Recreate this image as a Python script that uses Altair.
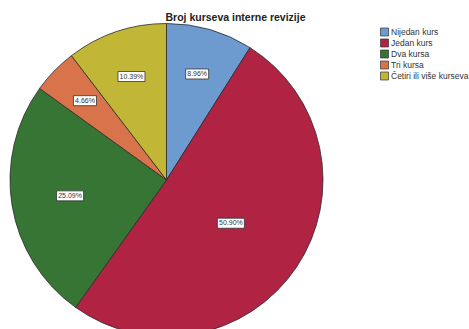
import altair as alt
import pandas as pd

categories = ["Nijedan kurs", "Jedan kurs", "Dva kursa", "Tri kursa", "Četiri ili više kurseva"]
percents = [8.96, 50.90, 25.09, 4.66, 10.39]
colors = ["#6e9bcf", "#b02343", "#377535", "#d8734b", "#c2b637"]
title_text = "Broj kurseva interne revizije"

CX, CY, R = 166.5, 180, 156.5

df = pd.DataFrame({"cat": categories, "pct": percents, "idx": list(range(len(categories)))})

color_enc = alt.Color(
    "cat:N",
    scale=alt.Scale(domain=categories, range=colors),
    sort=categories,
    legend=alt.Legend(
        title=None, orient="none", legendX=380, legendY=27.5,
        symbolType="square", symbolSize=64, symbolStrokeColor="#333333",
        symbolStrokeWidth=0.7, symbolOpacity=1,
        labelFont="Liberation Sans", labelFontSize=8.5, labelColor="#333333",
        labelOffset=2, rowPadding=0, padding=0,
    ),
)

pie = alt.Chart(df).mark_arc(radius=R, stroke="#2a2a2a", strokeWidth=0.8).encode(
    theta=alt.Theta("pct:Q", stack=True),
    color=color_enc,
    order=alt.Order("idx:Q"),
    x=alt.value(CX),
    y=alt.value(CY),
)

lab = alt.Chart(df).transform_window(
    cum="sum(pct)", sort=[alt.SortField("idx")], frame=[None, 0]
).transform_calculate(
    start="datum.cum - datum.pct",
).transform_calculate(
    a="2*PI*(datum.start + datum.pct/2)/100",
    d=f"{R}*(0.75 - 0.5*datum.pct/100)",
    label="format(datum.pct, '.2f') + '%'",
).transform_calculate(
    lx=f"{CX} + datum.d*sin(datum.a)",
    ly=f"{CY} - datum.d*cos(datum.a)",
    w="length(datum.label)*4 + 3",
).transform_calculate(
    x1="datum.lx - datum.w/2",
    x2="datum.lx + datum.w/2",
    y1="datum.ly - 5",
    y2="datum.ly + 5",
)

boxes = lab.mark_rect(fill="white", stroke="#333333", strokeWidth=0.8).encode(
    x=alt.X("x1:Q", scale=None, axis=None),
    x2="x2:Q",
    y=alt.Y("y1:Q", scale=None, axis=None),
    y2="y2:Q",
)

texts = lab.mark_text(
    font="Liberation Sans", fontSize=7, color="#333333", align="center", baseline="middle"
).encode(
    x=alt.X("lx:Q", scale=None, axis=None),
    y=alt.Y("ly:Q", scale=None, axis=None),
    text="label:N",
)

title = alt.Chart(pd.DataFrame({"t": [title_text]})).mark_text(
    font="Liberation Sans", fontSize=10.5, fontWeight="bold", color="#222222",
    align="center", baseline="alphabetic"
).encode(x=alt.value(235.5), y=alt.value(20.5), text="t:N")

chart = alt.layer(pie, boxes, texts, title).resolve_scale(
    x="independent", y="independent"
).properties(
    width=469, height=329, padding=0, autosize="none"
).configure_view(stroke=None)

chart.save("out.html", embed_options={"renderer": "svg", "actions": False})
